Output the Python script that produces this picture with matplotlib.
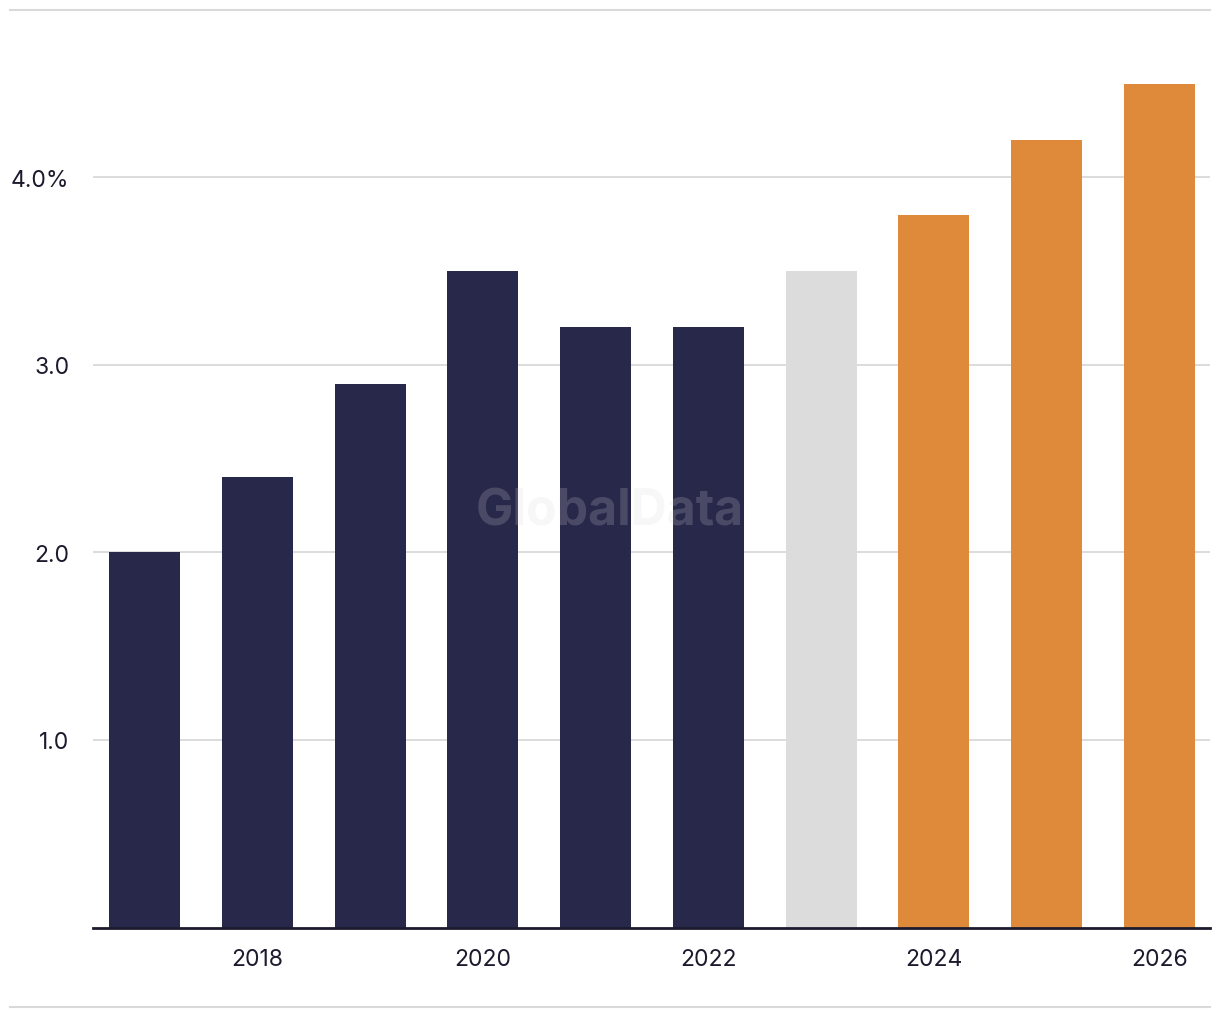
import matplotlib
matplotlib.use("Agg")
import matplotlib.pyplot as plt
from matplotlib.lines import Line2D

years = [2017, 2018, 2019, 2020, 2021, 2022, 2023, 2024, 2025, 2026]
values = [2.0, 2.4, 2.9, 3.5, 3.2, 3.2, 3.5, 3.8, 4.2, 4.5]
bar_colors = ["#27284a"] * 6 + ["#dcdcdc"] + ["#df8a3a"] * 3
y_ticks = [1.0, 2.0, 3.0, 4.0]
y_labels = ["1.0", "2.0", "3.0", "4.0%"]
x_ticks = [2018, 2020, 2022, 2024, 2026]

plt.rcParams["font.family"] = ["Inter", "DejaVu Sans"]

W, H = 1220, 1020
fig = plt.figure(figsize=(W / 100, H / 100), dpi=100)
ax = fig.add_axes([93 / W, (H - 928.5) / H, (1210 - 93) / W, (928.5 - 11) / H])

ax.bar(years, values, width=0.63, color=bar_colors, zorder=3)
ax.set_xlim(2017 - 0.457, 2026 + 0.45)
ax.set_ylim(0, 4.893)

ax.set_yticks(y_ticks)
ax.set_yticklabels(y_labels)
ax.set_xticks(x_ticks)
ax.set_xticklabels([str(x) for x in x_ticks])
ax.tick_params(axis="y", length=0, pad=17, labelsize=16.5, labelcolor="#1c1b2e")
ax.tick_params(axis="x", length=0, pad=15, labelsize=16.5, labelcolor="#1c1b2e")
ax.grid(axis="y", color="#d9d9d9", linewidth=1.3, zorder=0)
ax.grid(axis="x", visible=False)
for s in ["top", "right", "left"]:
    ax.spines[s].set_visible(False)
ax.spines["bottom"].set_color("#1c1b2e")
ax.spines["bottom"].set_linewidth(2)
ax.spines["bottom"].set_zorder(4)

fig.add_artist(Line2D([10 / W, 1210 / W], [(H - 11) / H] * 2, color="#d9d9d9", linewidth=1.5))
fig.add_artist(Line2D([10 / W, 1210 / W], [(H - 1008) / H] * 2, color="#d9d9d9", linewidth=1.5))

fig.text(610 / W, (H - 512) / H, "GlobalData", ha="center", va="center",
         fontsize=36, fontweight="bold", color="#d7d7d7", alpha=0.2, zorder=10)

fig.savefig("out.png", dpi=100)
